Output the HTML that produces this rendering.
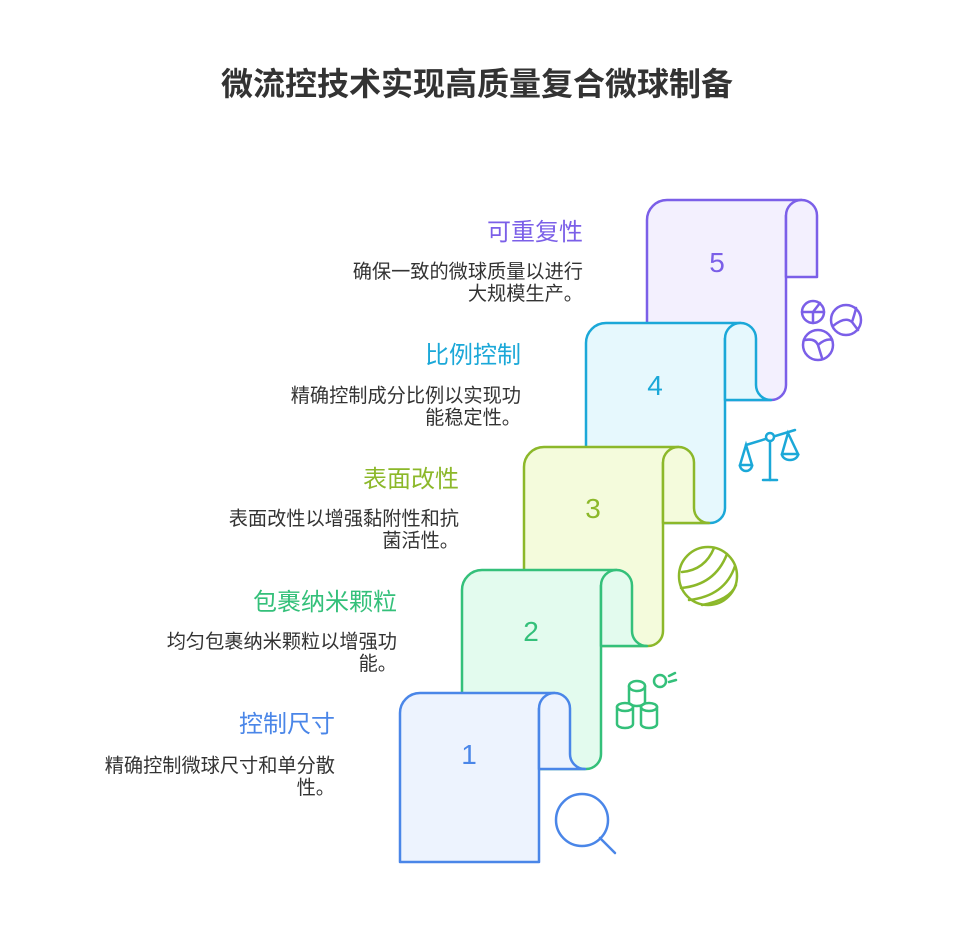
<!DOCTYPE html>
<html><head><meta charset="utf-8"><style>
body{margin:0;background:#fff;width:955px;height:947px;overflow:hidden;font-family:"Liberation Sans","Noto Sans CJK SC",sans-serif}
svg{position:absolute;left:0;top:0}
</style></head><body>
<svg width="955" height="947" viewBox="0 0 955 947" xmlns="http://www.w3.org/2000/svg" font-family="Liberation Sans, Noto Sans CJK SC, sans-serif">
<text x="477" y="95" text-anchor="middle" font-size="32" font-weight="bold" fill="#333">微流控技术实现高质量复合微球制备</text>

<g stroke-width="2.5" stroke-linejoin="round">
<path d="M647,220 A20,20 0 0 1 667,200 L801.5,200 L801.5,210 L786,215.5 L786,385 A15,15 0 0 1 771,400 L647,400 Z" fill="#f3f0fe" stroke="#7b5fe8"/>
<path d="M786,277 L786,215.5 A15.5,15.5 0 0 1 817,215.5 L817,277 Z" fill="#f3f0fe" stroke="#7b5fe8"/>
<path d="M586,343 A20,20 0 0 1 606,323 L740.5,323 L740.5,333 L725,338.5 L725,508 A15,15 0 0 1 710,523 L586,523 Z" fill="#e6f8fd" stroke="#1ba8d8"/>
<path d="M725,400 L725,338.5 A15.5,15.5 0 0 1 756,338.5 L756,385 A15,15 0 0 0 771,400 Z" fill="#e6f8fd" stroke="#1ba8d8"/>
<path d="M524,467 A20,20 0 0 1 544,447 L678.5,447 L678.5,457 L663,462.5 L663,631 A15,15 0 0 1 648,646 L524,646 Z" fill="#f4fbdc" stroke="#8cb82a"/>
<path d="M663,523 L663,462.5 A15.5,15.5 0 0 1 694,462.5 L694,508 A15,15 0 0 0 709,523 Z" fill="#f4fbdc" stroke="#8cb82a"/>
<path d="M462,590 A20,20 0 0 1 482,570 L616.5,570 L616.5,580 L601,585.5 L601,754 A15,15 0 0 1 586,769 L462,769 Z" fill="#e3fbee" stroke="#34c07a"/>
<path d="M601,646 L601,585.5 A15.5,15.5 0 0 1 632,585.5 L632,631 A15,15 0 0 0 647,646 Z" fill="#e3fbee" stroke="#34c07a"/>
<path d="M400,713 A20,20 0 0 1 420,693 L554.5,693 L554.5,703 L539,708.5 L539,862 L400,862 Z" fill="#edf3fe" stroke="#4a86e8"/>
<path d="M539,769 L539,708.5 A15.5,15.5 0 0 1 570,708.5 L570,754 A15,15 0 0 0 585,769 Z" fill="#edf3fe" stroke="#4a86e8"/>
</g>

<g font-size="28" text-anchor="middle">
<text x="469" y="764" fill="#4a86e8">1</text>
<text x="531" y="641" fill="#34c07a">2</text>
<text x="593" y="518" fill="#8cb82a">3</text>
<text x="655" y="395" fill="#1ba8d8">4</text>
<text x="717" y="272" fill="#7b5fe8">5</text>
</g>

<g font-size="24" text-anchor="end">
<text x="583" y="240" fill="#7b5fe8">可重复性</text>
<text x="521" y="363" fill="#1ba8d8">比例控制</text>
<text x="459" y="487" fill="#8cb82a">表面改性</text>
<text x="397" y="610" fill="#34c07a">包裹纳米颗粒</text>
<text x="335" y="732" fill="#4a86e8">控制尺寸</text>
</g>
<g font-size="19.2" text-anchor="end" fill="#333">
<text x="583" y="278">确保一致的微球质量以进行</text>
<text x="583" y="300">大规模生产。</text>
<text x="521" y="402">精确控制成分比例以实现功</text>
<text x="521" y="424">能稳定性。</text>
<text x="459" y="525">表面改性以增强黏附性和抗</text>
<text x="459" y="547">菌活性。</text>
<text x="397" y="648">均匀包裹纳米颗粒以增强功</text>
<text x="397" y="670">能。</text>
<text x="335" y="772">精确控制微球尺寸和单分散</text>
<text x="335" y="794">性。</text>
</g>

<g fill="none" stroke-width="2.5" stroke-linecap="round">
<g stroke="#4a86e8"><circle cx="582" cy="820" r="26"/><line x1="600" y1="838" x2="615" y2="853"/></g>
<g stroke="#34c07a">
<path d="M629,686 L629,702 A8,4 0 0 0 645,702 L645,686"/><ellipse cx="637" cy="686" rx="8" ry="5"/>
<path d="M617,707 L617,724 A8,4 0 0 0 633,724 L633,707"/><ellipse cx="625" cy="707" rx="8" ry="4"/>
<path d="M641,707 L641,724 A8,4 0 0 0 657,724 L657,707"/><ellipse cx="649" cy="707" rx="8" ry="4"/>
<circle cx="660" cy="681" r="6"/><line x1="669" y1="676" x2="675" y2="673"/><line x1="669" y1="682" x2="676" y2="680"/>
</g>
<g stroke="#8cb82a"><circle cx="708" cy="576" r="29"/>
<path d="M682,572 Q705,570 714,548"/><path d="M681,588 Q715,585 727,554"/><path d="M689,600 Q725,596 735,566"/><path d="M702,605 Q730,600 736,585"/></g>
<g stroke="#1ba8d8"><line x1="746" y1="445" x2="795" y2="430"/><circle cx="770" cy="437" r="4" fill="#fff"/>
<line x1="770" y1="441" x2="770" y2="480"/><line x1="763" y1="480" x2="777" y2="480"/>
<path d="M746,445 L740,465 L752,465 Z"/><path d="M740,465 A6,6 0 0 0 752,465"/>
<path d="M788,433 L782,454 L798,454 Z"/><path d="M782,454 A8,6 0 0 0 798,454"/></g>
<g stroke="#7b5fe8"><circle cx="813" cy="312" r="11"/><path d="M802,312 L824,312 M813,312 L813,323 M813,312 L820,303"/>
<circle cx="846" cy="320" r="15"/><path d="M833,326 Q845,316 852,322 Q855,313 856,308 M852,322 L858,330"/>
<circle cx="818" cy="345" r="15"/><path d="M805,340 Q815,338 818,345 Q826,338 832,340 M818,345 L822,358"/></g>
</g>
</svg>
</body></html>
